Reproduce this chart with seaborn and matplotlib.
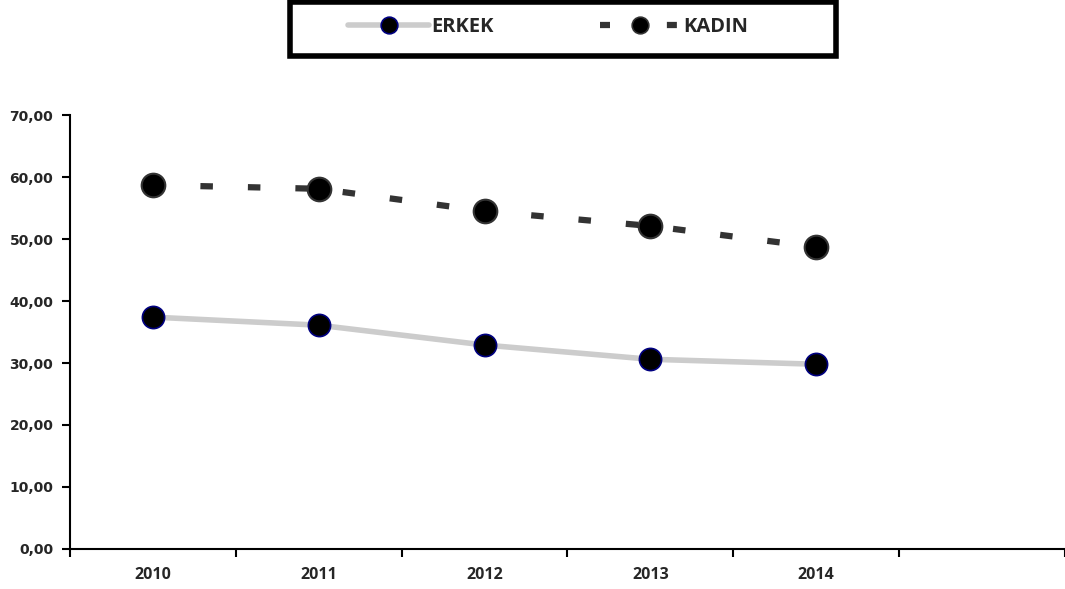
import numpy as np
import pandas as pd
import matplotlib
matplotlib.use("Agg")
import matplotlib.pyplot as plt
from matplotlib.lines import Line2D
from matplotlib.patches import Rectangle
from matplotlib.ticker import FixedLocator, FuncFormatter
import seaborn as sns

years = ["2010", "2011", "2012", "2013", "2014"]
erkek = [37.4, 36.1, 32.9, 30.6, 29.8]
kadin = [58.7, 58.1, 54.5, 52.1, 48.7]
series_names = ["ERKEK", "KADIN"]

sns.set_theme(style="white")
plt.rcParams["font.family"] = ["DejaVu Sans"]

W, H = 1065, 589
pos = np.arange(len(years))
df = pd.DataFrame({
    "pos": np.concatenate([pos, pos]),
    "value": erkek + kadin,
    "series": [series_names[0]] * len(years) + [series_names[1]] * len(years),
})

fig = plt.figure(figsize=(W / 100, H / 100), dpi=100)
ax = fig.add_axes([70 / W, 1 - 549 / H, 1 - 70 / W, (549 - 115) / H])

light = "#cccccc"
dark = "#333333"
kadin_dash = (2.0, 5.6)

# ERKEK: light grey band with navy-rimmed black markers
sns.lineplot(data=df[df.series == "ERKEK"], x="pos", y="value", ax=ax,
             color=light, linewidth=4.0, marker="o", markersize=16,
             markerfacecolor="black", markeredgecolor="#000080",
             markeredgewidth=1.2, legend=False, zorder=3)
# KADIN: dark dashed line with large black markers
sns.lineplot(data=df[df.series == "KADIN"], x="pos", y="value", ax=ax,
             color=dark, linewidth=4.5, marker="o", markersize=17,
             markerfacecolor="black", markeredgecolor=dark,
             markeredgewidth=1.5, legend=False, zorder=3)
ax.lines[1].set_dashes(kadin_dash)
ax.lines[1].set_dash_capstyle("butt")

ax.set_xlim(-0.5, len(years) + 0.5)
ax.set_ylim(0, 70)
ax.set_xlabel("")
ax.set_ylabel("")

# x axis: ticks on the category boundaries, labels at the centres
ax.xaxis.set_major_locator(FixedLocator(np.arange(-0.5, len(years) + 1.0, 1.0)))
ax.set_xticklabels([])
ax.set_xticks(pos, minor=True)
ax.set_xticklabels(years, minor=True, fontfamily="Open Sans",
                   fontweight="bold", fontsize=11.5)
ax.tick_params(axis="x", which="major", direction="out", length=6, width=1.5,
               color="black", bottom=True)
ax.tick_params(axis="x", which="minor", length=0, pad=13, bottom=True)

ax.set_yticks(np.arange(0, 71, 10))
ax.yaxis.set_major_formatter(FuncFormatter(lambda v, p: f"{v:.2f}".replace(".", ",")))
ax.tick_params(axis="y", direction="out", length=6, width=1.5, color="black",
               labelsize=10, left=True, pad=6)
for lbl in ax.get_yticklabels():
    lbl.set_fontweight("bold")

for side in ["top", "right"]:
    ax.spines[side].set_visible(False)
for side in ["left", "bottom"]:
    ax.spines[side].set_color("black")
    ax.spines[side].set_linewidth(1.5)
ax.grid(False)

# legend box drawn as a separate frame, entries placed inside it
fig.patches.append(Rectangle((290 / W, 1 - 56 / H), (836 - 290) / W, 54 / H,
                             transform=fig.transFigure, fill=False,
                             edgecolor="black", linewidth=4, zorder=5))
handles = [
    Line2D([], [], color=light, linewidth=4.0, marker="o", markersize=12,
           markerfacecolor="black", markeredgecolor="#000080", markeredgewidth=1.2),
    Line2D([], [], color=dark, linewidth=4.5, marker="o", markersize=12,
           markerfacecolor="black", markeredgecolor=dark, markeredgewidth=1.2,
           dashes=(1.6, 9.1), dash_capstyle="butt"),
]
fig.legend(handles, series_names, loc="center",
           bbox_to_anchor=(548 / W, 1 - 27 / H), ncol=2,
           frameon=False, handlelength=4.0, handletextpad=0.1,
           columnspacing=5.3, borderpad=0.0,
           prop={"family": "Open Sans", "weight": "bold", "size": 14.5})

fig.savefig("out.png", dpi=100, facecolor="white")
